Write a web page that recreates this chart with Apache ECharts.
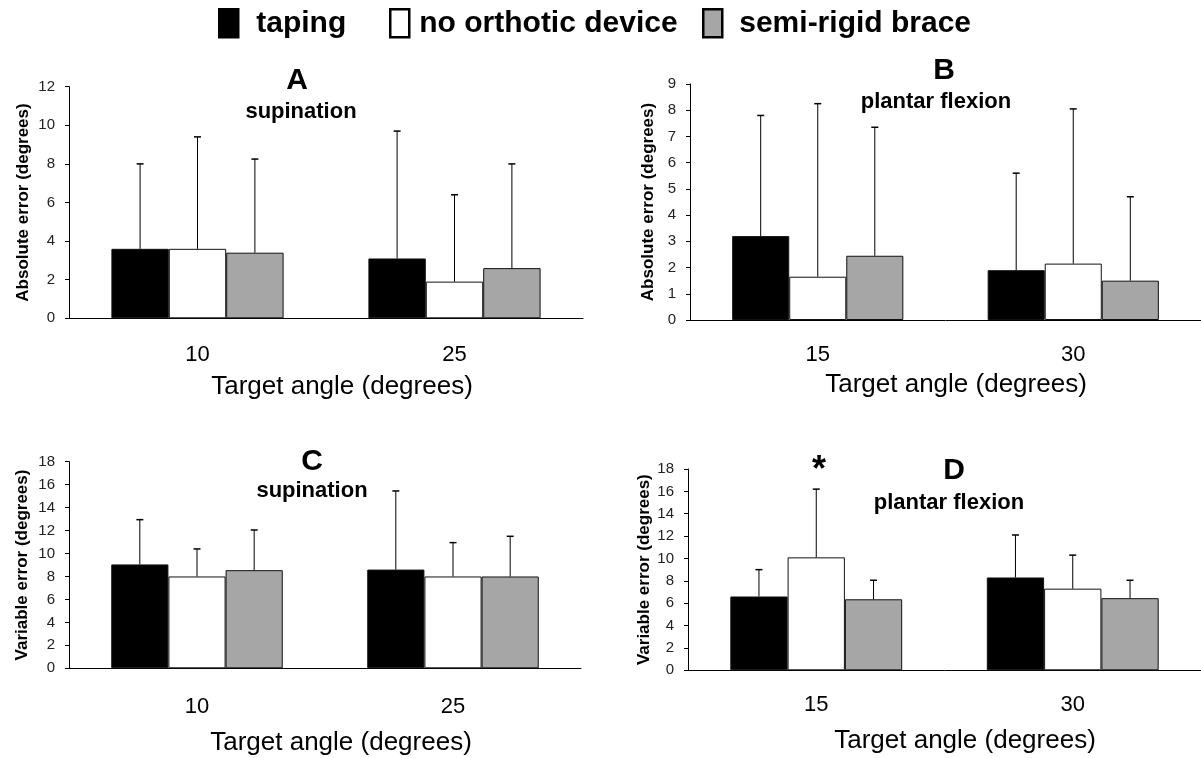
<!DOCTYPE html>
<html>
<head>
<meta charset="utf-8">
<title>Ankle position sense</title>
<script src="https://cdn.jsdelivr.net/npm/echarts@6/dist/echarts.min.js"></script>
<style>
  html, body { margin: 0; padding: 0; background: #fff; }
  #chart { width: 1201px; height: 758px; }
</style>
</head>
<body>
<div id="chart"></div>
<script>
// groups, in legend order
const conditions = ['taping', 'no orthotic device', 'semi-rigid brace']
const supAngles = ['10', '25']
const pfAngles = ['15', '30']

// A - absolute error, supination (mean / sd per condition)
const supAbsMean = [[3.6, 3.1], [3.6, 1.9], [3.4, 2.6]]
const supAbsSd = [[4.4, 6.6], [5.8, 4.5], [4.85, 5.4]]
// B - absolute error, plantar flexion
const pfAbsMean = [[3.2, 1.9], [1.65, 2.15], [2.45, 1.5]]
const pfAbsSd = [[4.6, 3.7], [6.6, 5.9], [4.9, 3.2]]
// C - variable error, supination
const supVarMean = [[9.05, 8.6], [8.0, 8.0], [8.55, 8.0]]
const supVarSd = [[3.9, 6.85], [2.4, 2.95], [3.5, 3.5]]
// D - variable error, plantar flexion
const pfVarMean = [[6.6, 8.3], [10.1, 7.3], [6.35, 6.45]]
const pfVarSd = [[2.4, 3.8], [6.1, 3.0], [1.7, 1.6]]

const FONT = 'Liberation Sans, Arial, sans-serif'
const GAP = 0.33
const fills = ['#000000', '#ffffff', '#a6a6a6']

const panels = [
  { cats: supAngles, mean: supAbsMean, sd: supAbsSd, max: 12, interval: 2,
    grid: { left: 69, top: 86.7, width: 514, height: 231.6 },
    yName: 'Absolute error (degrees)', nameGap: 37, labelMargin: 26 },
  { cats: pfAngles, mean: pfAbsMean, sd: pfAbsSd, max: 9, interval: 1,
    grid: { left: 690, top: 84, width: 518, height: 236 },
    yName: 'Absolute error (degrees)', nameGap: 33, labelMargin: 24 },
  { cats: supAngles, mean: supVarMean, sd: supVarSd, max: 18, interval: 2,
    grid: { left: 69, top: 461.7, width: 512, height: 206.6 },
    yName: 'Variable error (degrees)', nameGap: 38, labelMargin: 28 },
  { cats: pfAngles, mean: pfVarMean, sd: pfVarSd, max: 18, interval: 2,
    grid: { left: 688, top: 469, width: 516, height: 201.3 },
    yName: 'Variable error (degrees)', nameGap: 35, labelMargin: 24 }
]

function errorBar(slot) {
  return function(params, api) {
    let cat = api.value(0)
    let mean = api.value(1)
    let sd = api.value(2)
    let base = api.coord([cat, mean])
    let top = api.coord([cat, mean + sd])
    let bw = api.size([1, 0])[0] * (1 - GAP) / 3
    let x = base[0] + (slot - 1) * bw
    return {
      type: 'group',
      children: [
        { type: 'line', shape: { x1: x, y1: base[1], x2: x, y2: top[1] }, style: { stroke: '#000', lineWidth: 1 } },
        { type: 'line', shape: { x1: x - 3.5, y1: top[1], x2: x + 3.5, y2: top[1] }, style: { stroke: '#000', lineWidth: 1.5 } }
      ]
    }
  }
}

let grids = [], xAxes = [], yAxes = [], series = []
panels.forEach((p, k) => {
  grids.push(Object.assign({ containLabel: false }, p.grid))
  xAxes.push({
    type: 'category', gridIndex: k, data: p.cats,
    axisLine: { lineStyle: { color: '#000', width: 1 } },
    axisTick: { length: 6, lineStyle: { color: '#000' } },
    axisLabel: { fontSize: 22, color: '#000', fontFamily: FONT, margin: p.labelMargin }
  })
  yAxes.push({
    type: 'value', gridIndex: k, min: 0, max: p.max, interval: p.interval,
    name: p.yName, nameLocation: 'middle', nameGap: p.nameGap,
    nameTextStyle: { fontSize: 17, fontWeight: 'bold', color: '#000', fontFamily: FONT },
    axisLine: { show: true, lineStyle: { color: '#000', width: 1 } },
    axisTick: { show: true, length: 4, lineStyle: { color: '#000' } },
    axisLabel: { fontSize: 15, color: '#222', fontFamily: FONT, margin: 14 },
    splitLine: { show: false }
  })
  conditions.forEach((name, i) => {
    series.push({
      name: name, type: 'bar', xAxisIndex: k, yAxisIndex: k,
      data: p.mean[i], barGap: 0, barCategoryGap: GAP * 100 + '%',
      itemStyle: { color: fills[i], borderColor: '#111', borderWidth: 1 }
    })
  })
  conditions.forEach((name, i) => {
    series.push({
      type: 'custom', xAxisIndex: k, yAxisIndex: k, z: 5, silent: true,
      renderItem: errorBar(i),
      encode: { x: 0, y: 1 },
      data: p.mean[i].map((m, j) => [j, m, p.sd[i][j]])
    })
  })
})

const legendX = [218, 389, 702]
const legendPad = [13, 5, 12]
let legends = conditions.map((name, i) => ({
  data: [name], left: legendX[i], top: 8, padding: 0,
  icon: 'rect', itemWidth: 19, itemHeight: 28, selectedMode: false,
  itemStyle: { borderColor: '#000', borderWidth: 2.5 },
  textStyle: { fontSize: 30, fontWeight: 'bold', color: '#000', fontFamily: FONT, padding: [0, 0, 0, legendPad[i]] }
}))

function label(text, x, y, size, weight) {
  return {
    text: text, left: x, top: y, padding: 0,
    textAlign: 'center', textVerticalAlign: 'middle',
    textStyle: { fontSize: size, fontWeight: weight, color: '#000', fontFamily: FONT }
  }
}

let titles = [
  label('A', 297, 81, 30, 'bold'),
  label('supination', 301, 112, 22, 'bold'),
  label('B', 944, 71, 30, 'bold'),
  label('plantar flexion', 936, 102, 22, 'bold'),
  label('C', 312, 462, 30, 'bold'),
  label('supination', 312, 491, 22, 'bold'),
  label('D', 954, 471, 30, 'bold'),
  label('plantar flexion', 949, 503, 22, 'bold'),
  label('*', 819, 471, 36, 'bold'),
  label('Target angle (degrees)', 342, 387, 26, 'normal'),
  label('Target angle (degrees)', 956, 385, 26, 'normal'),
  label('Target angle (degrees)', 341, 743, 26, 'normal'),
  label('Target angle (degrees)', 965, 741, 26, 'normal')
]

let chart = echarts.init(document.getElementById('chart'))
chart.setOption({
  animation: false,
  backgroundColor: '#fff',
  title: titles,
  legend: legends,
  grid: grids,
  xAxis: xAxes,
  yAxis: yAxes,
  series: series
})
</script>
</body>
</html>
